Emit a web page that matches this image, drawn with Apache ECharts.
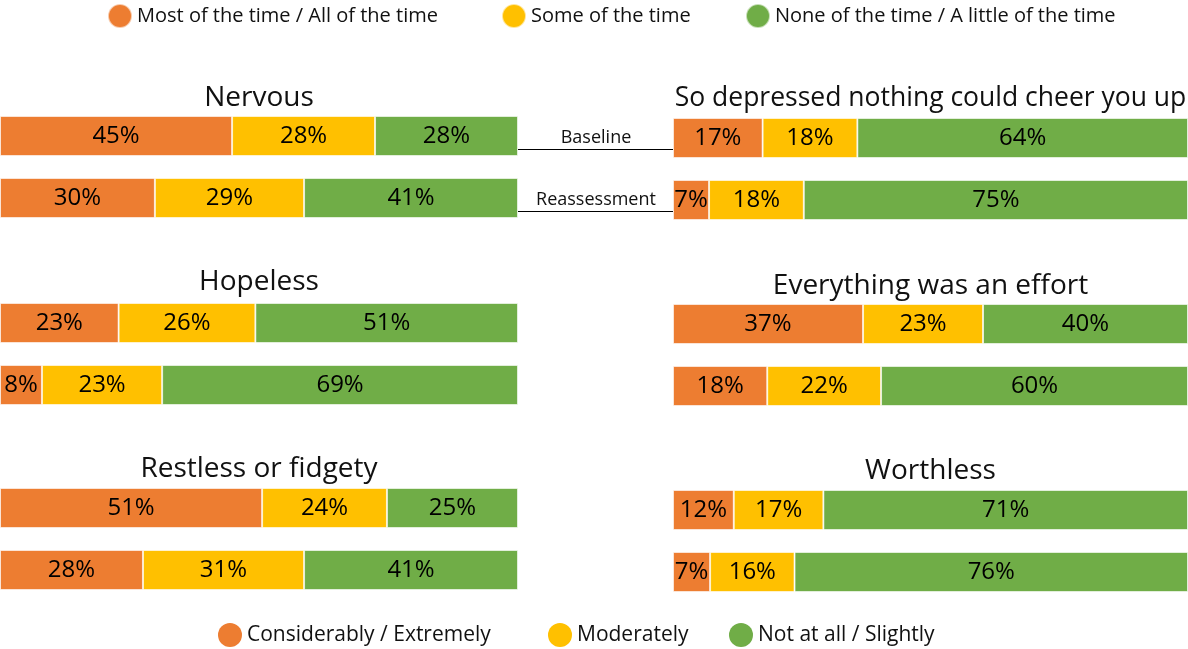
<!DOCTYPE html>
<html>
<head>
<meta charset="utf-8">
<script src="https://cdn.jsdelivr.net/npm/echarts@6/dist/echarts.min.js"></script>
<style>
  html, body { margin: 0; padding: 0; background: #fff; }
  #chart { width: 1188px; height: 649px; }
</style>
</head>
<body>
<div id="chart"></div>
<script>
const rows = ['Baseline', 'Reassessment'];
const topNames = ['Most of the time / All of the time', 'Some of the time', 'None of the time / A little of the time'];
const bottomNames = ['Considerably / Extremely', 'Moderately', 'Not at all / Slightly'];
const colors = ['#ED7D31', '#FFC000', '#70AD47'];

const panels = ['Nervous', 'Hopeless', 'Restless or fidgety',
  'So depressed nothing could cheer you up', 'Everything was an effort', 'Worthless'];

// per panel: [baseline, reassessment] for each response group
const highVals = [[44.8, 29.9], [22.9, 8.1], [50.6, 27.6], [17.4, 7.0], [36.9, 18.3], [11.8, 7.2]];
const midVals  = [[27.6, 28.8], [26.4, 23.2], [24.1, 31.1], [18.4, 18.4], [23.3, 22.1], [17.4, 16.4]];
const lowVals  = [[27.6, 41.3], [50.7, 68.7], [25.3, 41.3], [64.2, 74.6], [39.8, 59.6], [70.8, 76.4]];

// layout
const gridTops = [107, 292, 477, 107, 293, 479];
const titleY = [97, 281, 468, 98, 285, 470];
const titleSize = [28, 28, 28, 26.5, 28, 28];
const leftX = [0, 0, 0, 673, 673, 673];
const gridW = [518, 518, 518, 515, 515, 515];

const grids = [], xAxes = [], yAxes = [], series = [], titles = [];
panels.forEach((p, i) => {
  grids.push({ left: leftX[i], top: gridTops[i], width: gridW[i], height: 124 });
  xAxes.push({ gridIndex: i, type: 'value', min: 0, max: 100, show: false });
  yAxes.push({ gridIndex: i, type: 'category', data: rows, inverse: true, show: false });
  titles.push({
    text: p, left: leftX[i] + gridW[i] / 2 - 5, top: titleY[i] - 18, textAlign: 'center',
    textStyle: { fontFamily: 'Open Sans', fontSize: titleSize[i], fontWeight: 'normal', color: '#111' }
  });
  [highVals, midVals, lowVals].forEach((vals, k) => {
    series.push({
      name: topNames[k], type: 'bar', stack: 'p' + i,
      xAxisIndex: i, yAxisIndex: i, barWidth: 40,
      data: vals[i],
      itemStyle: { color: colors[k], borderColor: 'rgba(255,255,255,0.6)', borderWidth: 1 },
      label: {
        show: true, position: 'inside', color: '#000',
        fontFamily: 'Open Sans', fontSize: 24,
        formatter: d => Math.round(d.value) + '%'
      },
      emphasis: { disabled: true }
    });
  });
});
// bottom legend entries
bottomNames.forEach((n, k) => {
  series.push({ name: n, type: 'bar', xAxisIndex: 0, yAxisIndex: 0, data: [], itemStyle: { color: colors[k] } });
});

const legendOne = (name, left, top, size) => ({
  data: [name], left: left, top: top, icon: 'circle', itemWidth: 24, itemHeight: 24,
  padding: 0, textStyle: { fontFamily: 'Open Sans', fontSize: size, color: '#111' }
});
const option = {
  animation: false,
  title: titles,
  grid: grids,
  xAxis: xAxes,
  yAxis: yAxes,
  legend: [
    legendOne(topNames[0], 107, 3, 20),
    legendOne(topNames[1], 501, 3, 20),
    legendOne(topNames[2], 745, 3, 20),
    legendOne(bottomNames[0], 218, 623, 21),
    legendOne(bottomNames[1], 548, 623, 21),
    legendOne(bottomNames[2], 729, 623, 21)
  ],
  graphic: [
    { type: 'line', shape: { x1: 518, y1: 149.5, x2: 673, y2: 149.5 }, style: { stroke: '#000', lineWidth: 1 } },
    { type: 'line', shape: { x1: 518, y1: 211.5, x2: 673, y2: 211.5 }, style: { stroke: '#000', lineWidth: 1 } },
    { type: 'text', x: 596, y: 138, style: { text: rows[0], textAlign: 'center', textVerticalAlign: 'middle', font: '18px "Open Sans"', fill: '#111' } },
    { type: 'text', x: 596, y: 200, style: { text: rows[1], textAlign: 'center', textVerticalAlign: 'middle', font: '18px "Open Sans"', fill: '#111' } }
  ],
  series: series
};

const chart = echarts.init(document.getElementById('chart'));
chart.setOption(option);
</script>
</body>
</html>
